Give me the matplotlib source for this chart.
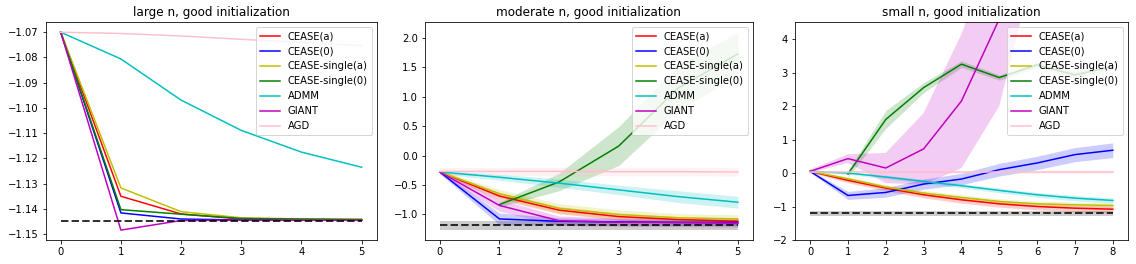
import numpy as np
import matplotlib

matplotlib.use("Agg")
import matplotlib.pyplot as plt

METHODS = ["CEASE(a)", "CEASE(0)", "CEASE-single(a)", "CEASE-single(0)", "ADMM", "GIANT", "AGD"]
COLORS = ["r", "b", "y", "g", "c", "m", "pink"]

# large n: iterations 0..5
large_x = [0, 1, 2, 3, 4, 5]
large_mean = [
    [-1.0700, -1.1350, -1.1420, -1.1440, -1.1443, -1.1444],
    [-1.0700, -1.1416, -1.1440, -1.1444, -1.1445, -1.1445],
    [-1.0700, -1.1317, -1.1411, -1.1435, -1.1440, -1.1441],
    [-1.0700, -1.1403, -1.1421, -1.1438, -1.1440, -1.1442],
    [-1.0700, -1.0806, -1.0969, -1.1089, -1.1175, -1.1235],
    [-1.0700, -1.1484, -1.1446, -1.1445, -1.1445, -1.1445],
    [-1.0700, -1.0705, -1.0715, -1.0728, -1.0740, -1.0753],
]
large_opt = -1.1447

# moderate n: iterations 0..5 (CEASE-single(0) starts at 1)
mod_x = [0, 1, 2, 3, 4, 5]
mod_mean = [
    [-0.28, -0.69, -0.93, -1.04, -1.09, -1.12],
    [-0.28, -1.08, -1.12, -1.13, -1.14, -1.14],
    [-0.28, -0.65, -0.90, -1.005, -1.06, -1.08],
    [None, -0.835, -0.45, 0.16, 1.15, 1.73],
    [-0.28, -0.37, -0.47, -0.585, -0.70, -0.795],
    [-0.28, -0.85, -1.11, -1.136, -1.14, -1.15],
    [-0.27, -0.27, -0.27, -0.275, -0.275, -0.28],
]
mod_std = [
    [0.03, 0.06, 0.06, 0.06, 0.05, 0.05],
    [0.03, 0.10, 0.06, 0.05, 0.05, 0.05],
    [0.03, 0.07, 0.08, 0.08, 0.07, 0.07],
    [None, 0.04, 0.15, 0.33, 0.38, 0.37],
    [0.03, 0.05, 0.07, 0.08, 0.10, 0.10],
    [0.03, 0.10, 0.08, 0.07, 0.07, 0.07],
    [0.07, 0.07, 0.07, 0.07, 0.07, 0.07],
]
mod_opt = -1.19
mod_opt_std = 0.08

# small n: iterations 0..8 (CEASE-single(0) starts at 1)
small_x = [0, 1, 2, 3, 4, 5, 6, 7, 8]
small_mean = [
    [0.05, -0.22, -0.45, -0.65, -0.80, -0.92, -1.00, -1.05, -1.08],
    [0.05, -0.67, -0.58, -0.33, -0.18, 0.10, 0.30, 0.55, 0.68],
    [0.05, -0.17, -0.42, -0.60, -0.73, -0.85, -0.92, -0.95, -0.97],
    [None, -0.03, 1.60, 2.55, 3.25, 2.85, 3.23, 2.93, 3.18],
    [0.05, 0.00, -0.12, -0.25, -0.38, -0.52, -0.65, -0.75, -0.82],
    [0.05, 0.43, 0.15, 0.72, 2.15, 4.60, 9.50, 14.0, 18.0],
    [0.02, 0.02, 0.02, 0.02, 0.02, 0.02, 0.02, 0.02, 0.02],
]
small_std = [
    [0.03, 0.07, 0.08, 0.09, 0.10, 0.10, 0.10, 0.10, 0.10],
    [0.03, 0.12, 0.14, 0.15, 0.17, 0.19, 0.20, 0.21, 0.22],
    [0.03, 0.06, 0.07, 0.08, 0.08, 0.08, 0.08, 0.08, 0.08],
    [None, 0.10, 0.27, 0.15, 0.10, 0.08, 0.08, 0.08, 0.08],
    [0.03, 0.04, 0.05, 0.06, 0.06, 0.07, 0.07, 0.08, 0.08],
    [0.05, 0.13, 0.45, 1.07, 2.00, 2.60, 3.00, 3.50, 4.00],
    [0.05, 0.05, 0.05, 0.05, 0.05, 0.05, 0.05, 0.05, 0.05],
]
small_opt = -1.20
small_opt_std = 0.07

TITLES = ["large n, good initialization", "moderate n, good initialization", "small n, good initialization"]


def draw_panel(ax, x, means, stds, opt, opt_std, title):
    for label, color, m, s in zip(METHODS, COLORS, means, stds if stds else [None] * len(means)):
        idx = [i for i, v in enumerate(m) if v is not None]
        xs = np.array([x[i] for i in idx])
        ms = np.array([m[i] for i in idx], dtype=float)
        ax.plot(xs, ms, color=color, lw=1.5, label=label)
        if s is not None:
            ss = np.array([s[i] for i in idx], dtype=float)
            ax.fill_between(xs, ms - ss, ms + ss, color=color, alpha=0.2, lw=0)
    ax.plot([x[0], x[-1]], [opt, opt], "k--", lw=2, alpha=0.8)
    if opt_std:
        ax.fill_between([x[0], x[-1]], opt - opt_std, opt + opt_std, color="k", alpha=0.2, lw=0)
    ax.set_xticks(x)
    ax.set_title(title, fontsize=12)
    ax.legend(loc="upper right", fontsize=10)


fig = plt.figure(figsize=(1136 / 72, 264 / 72), dpi=72)
ax1 = fig.add_axes([0.0402, 0.0909, 0.2914, 0.8246])
ax2 = fig.add_axes([0.3741, 0.0909, 0.2885, 0.8246])
ax3 = fig.add_axes([0.6998, 0.0909, 0.2931, 0.8246])

draw_panel(ax1, large_x, large_mean, None, large_opt, None, TITLES[0])
draw_panel(ax2, mod_x, mod_mean, mod_std, mod_opt, mod_opt_std, TITLES[1])
draw_panel(ax3, small_x, small_mean, small_std, small_opt, small_opt_std, TITLES[2])
ax3.set_ylim(-2, 4.5)

for ax in (ax1, ax2, ax3):
    ax.tick_params(labelsize=10)

fig.savefig("out.png", dpi=72)
